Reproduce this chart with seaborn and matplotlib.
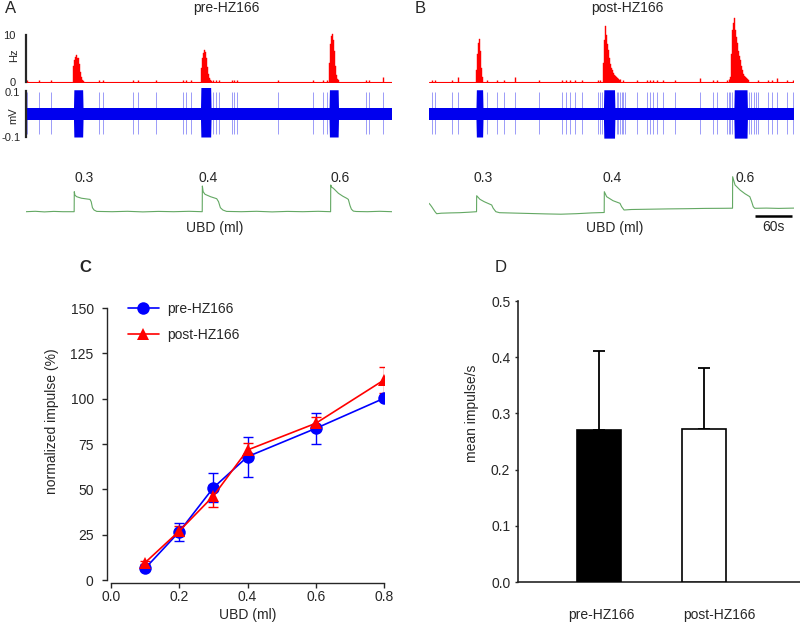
import matplotlib
matplotlib.use("Agg")
import matplotlib.pyplot as plt
import matplotlib.transforms as mtransforms
from matplotlib.lines import Line2D
import numpy as np
import pandas as pd
import seaborn as sns

sns.set_style("ticks")
plt.rcParams["font.family"] = ["Liberation Sans", "DejaVu Sans"]
plt.rcParams["font.size"] = 10

# ---------------- data: panels A/B (time in s) ----------------
BIN_S = 1.63
T_END = 595

pre_spont_t = [1.6, 21, 41, 119, 125, 174, 182, 211, 255, 260, 268, 304, 309, 314,
               335, 338, 343, 410, 467, 483, 489, 553, 558, 580]
pre_spont_hz = [0.5, 0.5, 0.5, 0.5, 0.4, 0.5, 0.4, 0.5, 0.5, 0.5, 0.4, 0.5, 0.5, 0.5,
                0.4, 0.5, 0.4, 0.5, 0.5, 0.5, 0.5, 0.5, 0.4, 1.0]
pre_burst_start = [77.2, 284.6, 492.7]
pre_burst_hz = [
    [3.5, 4.6, 5.4, 5.7, 5.0, 3.8, 2.2, 1.0, 0.5, 0.3],
    [3.0, 5.0, 6.2, 6.8, 6.3, 5.0, 3.2, 1.6, 0.8, 0.5, 0.3],
    [4.0, 8.0, 9.8, 10.2, 9.0, 6.5, 3.5, 1.5, 0.7, 0.4],
]

post_spont_t = [4.9, 9.8, 37.5, 47.3, 94.5, 110.8, 122.3, 140.2, 179.3, 216.8, 223.3,
                229.8, 238, 249.4, 275.5, 278.7, 306.4, 311.3, 316.2, 339, 355.3, 360.2,
                365.1, 371.6, 381.4, 401, 441.7, 463, 469.4, 486, 489, 536.3, 552.6,
                559.1, 567.3, 583.6, 593.4]
post_spont_hz = [0.4, 0.4, 0.4, 1.1, 0.4, 0.4, 0.4, 1.0, 0.4, 0.4, 0.4, 0.4, 0.4, 0.4,
                 0.5, 0.5, 0.8, 0.6, 0.5, 0.4, 0.4, 0.4, 0.4, 0.4, 0.4, 0.5, 0.9, 0.5,
                 0.5, 0.5, 0.6, 0.4, 0.4, 0.5, 0.9, 0.4, 0.4]
post_burst_start = [76.6, 283.6, 491.4]
post_burst_hz = [
    [2.5, 6.0, 8.2, 9.1, 6.5, 3.0, 1.0],
    [4.0, 9.0, 11.9, 10.0, 8.0, 6.8, 5.0, 3.8, 3.0, 2.5, 2.0, 1.5, 1.2, 1.0, 0.8, 0.6, 0.5],
    [1.0, 6.0, 11.0, 12.5, 13.7, 11.0, 9.5, 8.2, 6.5, 5.5, 4.6, 3.5, 2.5, 1.8, 1.2, 1.0,
     0.8, 0.6, 0.5],
]

# raw nerve recording (mV): noise band, burst envelopes, isolated spikes
noise_band = (-0.025, 0.031)
spike_amp = (-0.085, 0.10)
pre_blue_on = [77.2, 283.7, 492.7]
pre_blue_off = [92.7, 300.8, 508.0]
pre_blue_up = [0.11, 0.12, 0.11]
pre_blue_down = [-0.10, -0.10, -0.10]
post_blue_on = [76.6, 284.4, 497.0]
post_blue_off = [88.0, 303.0, 519.0]
post_blue_up = [0.11, 0.11, 0.11]
post_blue_down = [-0.10, -0.105, -0.105]
post_extra_spikes = [282.0, 307.5, 314.0, 319.5, 490.5, 494.0, 521.5, 525.0, 529.0, 532.5]

# bladder distension pressure traces
pre_ubd_t = [0, 15, 30, 45, 60, 78.3, 78.5, 79.5, 82.4, 90, 98, 104, 106, 108, 110.6, 115,
             140, 165, 190, 215, 240, 265, 286.5, 286.7, 288, 291, 300, 310, 313, 316, 320,
             326, 350, 375, 400, 425, 450, 475, 495.2, 495.4, 497, 499.7, 507.9, 515, 521.4,
             524, 526.8, 529, 532.2, 537, 555, 575, 595]
pre_ubd_v = [0, 0.4, -0.2, 0.3, 0, 0, 20, 16.5, 15, 13.5, 12.8, 12.3, 10, 4, 1.7, 0.3,
             0, 0.4, -0.2, 0.3, 0, 0.4, 0, 25.7, 20, 17.4, 15, 13, 10, 4, 1.7,
             0.3, 0, 0.4, -0.2, 0.3, 0, 0.4, 0, 26.7, 24.5, 23.4, 18.4, 15.5, 13.4,
             12.3, 6, 2.5, 0.6, 0.2, 0, 0.4, 0]
post_ubd_t = [0, 2, 4.4, 9.8, 12.5, 20, 35, 50, 65, 77.5, 77.7, 83, 90, 102.2, 104.6, 109,
              115, 140, 165, 190, 215, 240, 265, 285.6, 285.8, 289.6, 300, 311.3, 314, 318,
              330, 360, 390, 420, 450, 480, 494.8, 495, 498.9, 507, 515, 523, 526, 528.6,
              531, 550, 570, 595]
post_ubd_v = [8.4, 7, 5, 0, -2.0, -1.5, -1.2, -1.0, -0.5, 0, 16, 12.4, 10, 6.7, 3.5, 0,
              -1.0, -1.4, -1.8, -2.2, -2.5, -2.0, -1.2, -0.8, 20, 15, 11, 8.4, 5, 1.7,
              2.2, 2.5, 2.8, 3.0, 3.3, 3.4, 3.5, 35, 26.7, 21.7, 18, 15, 10, 5,
              3.4, 3.6, 3.3, 3.6]
ubd_volumes = ["0.3", "0.4", "0.6"]
pre_label_t = [94.3, 296, 510.6]
post_label_t = [88, 298.3, 515]

# ---------------- data: panel C ----------------
ubd_ml = [0.1, 0.2, 0.3, 0.4, 0.6, 0.8]
pre_norm = [6.4, 26.6, 50.9, 68.0, 83.6, 100.2]
pre_norm_err = [1.0, 5.0, 8.0, 11.0, 8.7, 1.0]
post_norm = [9.6, 27.0, 46.3, 71.7, 86.4, 110.3]
post_norm_err = [1.0, 3.0, 6.3, 4.0, 3.6, 7.0]

# ---------------- data: panel D ----------------
groups = ["pre-HZ166", "post-HZ166"]
mean_rate = [0.270, 0.272]
mean_rate_sd = [0.141, 0.108]

# ---------------- figure ----------------
W, H = 800, 624
fig = plt.figure(figsize=(W / 100, H / 100), dpi=100)


def px_axes(x0, y0, x1, y1):
    return fig.add_axes([x0 / W, 1 - y1 / H, (x1 - x0) / W, (y1 - y0) / H])


RED = "#ff0000"
BLUE = "#0000ee"
GREEN = "#63a863"


def trace_panel(xl, xr, spont_t, spont_hz, b_start, b_hz, bl_on, bl_off, bl_up, bl_down,
                extra_spk, ubd_t, ubd_v, lab_t, scale=False):
    # firing-rate histogram
    axr = px_axes(xl, 16.2, xr, 83.4)
    axr.set_xlim(0, T_END)
    axr.set_ylim(-0.3, 14)
    axr.axhline(0, color=RED, lw=0.8)
    axr.vlines(spont_t, 0, spont_hz, color=RED, lw=1.0)
    for s, hz in zip(b_start, b_hz):
        lefts = [s + i * BIN_S for i in range(len(hz))]
        axr.bar(lefts, hz, width=BIN_S, align="edge", color=RED, edgecolor=RED, lw=0.3)
    # raw recording
    axb = px_axes(xl, 87.5, xr, 141.5)
    axb.set_xlim(0, T_END)
    axb.set_ylim(-0.12, 0.12)
    axb.vlines(list(spont_t) + list(extra_spk), spike_amp[0], spike_amp[1], color=BLUE,
               lw=0.6, alpha=0.45)
    axb.fill_between([0, T_END], [noise_band[0]] * 2, [noise_band[1]] * 2, color=BLUE, lw=0)
    for on, off, up, dn in zip(bl_on, bl_off, bl_up, bl_down):
        tt = [on, on + 0.6, off - 0.6, off]
        axb.fill_between(tt, [noise_band[0], dn, dn, noise_band[0]],
                         [noise_band[1], up, up, noise_band[1]], color=BLUE, lw=0)
    # pressure trace
    axg = px_axes(xl, 169.7, xr, 217.7)
    axg.set_xlim(0, T_END)
    axg.set_ylim(-6, 42)
    sns.lineplot(x=ubd_t, y=ubd_v, color=GREEN, lw=0.8, ax=axg, estimator=None, sort=False)
    for lab, t in zip(ubd_volumes, lab_t):
        axg.text(t, 33.7, lab, ha="center", va="center", fontsize=10)
    if scale:
        axg.plot([531.5, 591.5], [-4.3, -4.3], color="black", lw=1.8, clip_on=False,
                 solid_capstyle="butt")
    for a in (axr, axb, axg):
        for sp in a.spines.values():
            sp.set_visible(False)
        a.set_xticks([])
        a.set_yticks([])
        a.set_xlabel("")
        a.set_ylabel("")
        a.patch.set_alpha(0)
    return axr, axb


axrA, axbA = trace_panel(26, 392, pre_spont_t, pre_spont_hz, pre_burst_start, pre_burst_hz,
                         pre_blue_on, pre_blue_off, pre_blue_up, pre_blue_down, [],
                         pre_ubd_t, pre_ubd_v, pre_label_t)
trace_panel(429, 794, post_spont_t, post_spont_hz, post_burst_start, post_burst_hz,
            post_blue_on, post_blue_off, post_blue_up, post_blue_down, post_extra_spikes,
            post_ubd_t, post_ubd_v, post_label_t, scale=True)

# scale axes for panel A
axrA.spines["left"].set_visible(True)
axrA.spines["left"].set_bounds(0, 10)
axrA.spines["left"].set_linewidth(1.6)
axrA.set_yticks([0, 10], ["0", "10"])
axrA.tick_params(axis="y", length=0, pad=7.5, labelsize=8)
axbA.spines["left"].set_visible(True)
axbA.spines["left"].set_bounds(-0.1, 0.105)
axbA.spines["left"].set_linewidth(1.6)
axbA.set_yticks([-0.1, 0.1], ["-0.1", "0.1"])
axbA.tick_params(axis="y", length=0, pad=4, labelsize=8)
fig.text(14.5 / W, 1 - 55 / H, "Hz", rotation=90, ha="center", va="center", fontsize=8)
fig.text(13.5 / W, 1 - 116 / H, "mV", rotation=90, ha="center", va="center", fontsize=8)

fig.text(11 / W, 1 - 1 / H, "A", fontsize=12, ha="center", va="top")
fig.text(420 / W, 1 - 1 / H, "B", fontsize=12, ha="center", va="top")
fig.text(226 / W, 1 - 1 / H, "pre-HZ166", fontsize=10, ha="center", va="top")
fig.text(627 / W, 1 - 1 / H, "post-HZ166", fontsize=10, ha="center", va="top")
fig.text(215 / W, 1 - 228 / H, "UBD (ml)", fontsize=10, ha="center", va="center")
fig.text(615 / W, 1 - 228 / H, "UBD (ml)", fontsize=10, ha="center", va="center")
fig.text(773 / W, 1 - 227 / H, "60s", fontsize=10, ha="center", va="center")

# ---------------- panel C ----------------
axC = px_axes(111, 308, 384, 580)
dfC = pd.DataFrame({
    "UBD": ubd_ml * 2,
    "impulse": pre_norm + post_norm,
    "group": ["pre-HZ166"] * len(ubd_ml) + ["post-HZ166"] * len(ubd_ml),
})
axC.errorbar(ubd_ml, pre_norm, yerr=pre_norm_err, fmt="none", ecolor="blue", elinewidth=1.0,
             capsize=3.5, capthick=1.0, zorder=2)
axC.errorbar(ubd_ml, post_norm, yerr=post_norm_err, fmt="none", ecolor="red", elinewidth=1.0,
             capsize=3.5, capthick=1.0, zorder=2)
sns.lineplot(data=dfC, x="UBD", y="impulse", hue="group", style="group",
             markers={"pre-HZ166": "o", "post-HZ166": "^"}, dashes=False,
             palette={"pre-HZ166": "blue", "post-HZ166": "red"},
             hue_order=["pre-HZ166", "post-HZ166"], estimator=None, lw=1.2,
             markersize=9, markeredgewidth=0, legend=False, ax=axC, zorder=3)
axC.set_xlim(0, 0.8)
axC.set_ylim(0, 150)
axC.set_xticks([0, 0.2, 0.4, 0.6, 0.8], ["0.0", "0.2", "0.4", "0.6", "0.8"])
axC.set_yticks([0, 25, 50, 75, 100, 125, 150])
sns.despine(ax=axC, offset={"left": 3, "bottom": 2})
for sp in ("left", "bottom"):
    axC.spines[sp].set_linewidth(1.0)
axC.tick_params(axis="y", length=3.5, width=1.0, pad=6, labelsize=10)
axC.tick_params(axis="x", length=3.5, width=1.0, pad=1.5, labelsize=10)
axC.set_xlabel("UBD (ml)", fontsize=10)
axC.set_ylabel("normalized impulse (%)", fontsize=10)
axC.xaxis.set_label_coords(0.5, (580 - 615) / 272, transform=axC.transAxes)
axC.xaxis.label.set_va("center")
axC.yaxis.set_label_coords((52 - 111) / 273, (580 - 421) / 272)
axC.yaxis.label.set_va("center")
handles = [Line2D([], [], color="blue", marker="o", ms=9, lw=1.2, mew=0),
           Line2D([], [], color="red", marker="^", ms=9, lw=1.2, mew=0)]
axC.legend(handles, groups, loc="upper left", bbox_to_anchor=(128 / W, 1 - 302 / H),
           bbox_transform=fig.transFigure, frameon=False, borderpad=0, borderaxespad=0,
           handlelength=2.2, handletextpad=0.6, labelspacing=0.85, fontsize=10)
fig.text(85 / W, 1 - 272 / H, "C", fontsize=12, fontweight="bold", ha="center", va="baseline")

# ---------------- panel D ----------------
axD = px_axes(518, 301, 800, 582)
sns.barplot(x=groups, y=mean_rate, hue=groups, palette=["black", "white"], saturation=1,
            edgecolor="black", linewidth=1.2, width=0.41, legend=False, ax=axD, zorder=3)
axD.errorbar([0, 1], mean_rate, yerr=[[0, 0], mean_rate_sd], fmt="none", ecolor="black",
             elinewidth=1.3, capsize=4.5, capthick=1.3, zorder=2)
axD.set_xlim(-0.771, 1.914)
axD.set_ylim(0, 0.5)
axD.set_yticks([0, 0.1, 0.2, 0.3, 0.4, 0.5], ["0.0", "0.1", "0.2", "0.3", "0.4", "0.5"])
sns.despine(ax=axD)
for sp in ("left", "bottom"):
    axD.spines[sp].set_linewidth(1.2)
axD.tick_params(axis="y", length=2.5, width=1.0, pad=3, labelsize=10)
axD.tick_params(axis="x", length=0, pad=19, labelsize=10)
label_shift_px = [2, 15]
for lbl, dx in zip(axD.get_xticklabels(), label_shift_px):
    lbl.set_transform(lbl.get_transform() +
                      mtransforms.ScaledTranslation(dx / 100, 0, fig.dpi_scale_trans))
axD.set_ylabel("mean impulse/s", fontsize=10)
axD.yaxis.set_label_coords((472 - 518) / 282, (582 - 413) / 281)
axD.yaxis.label.set_va("center")
fig.text(501 / W, 1 - 272 / H, "D", fontsize=12, ha="center", va="baseline")

fig.savefig("out.png", dpi=100)
